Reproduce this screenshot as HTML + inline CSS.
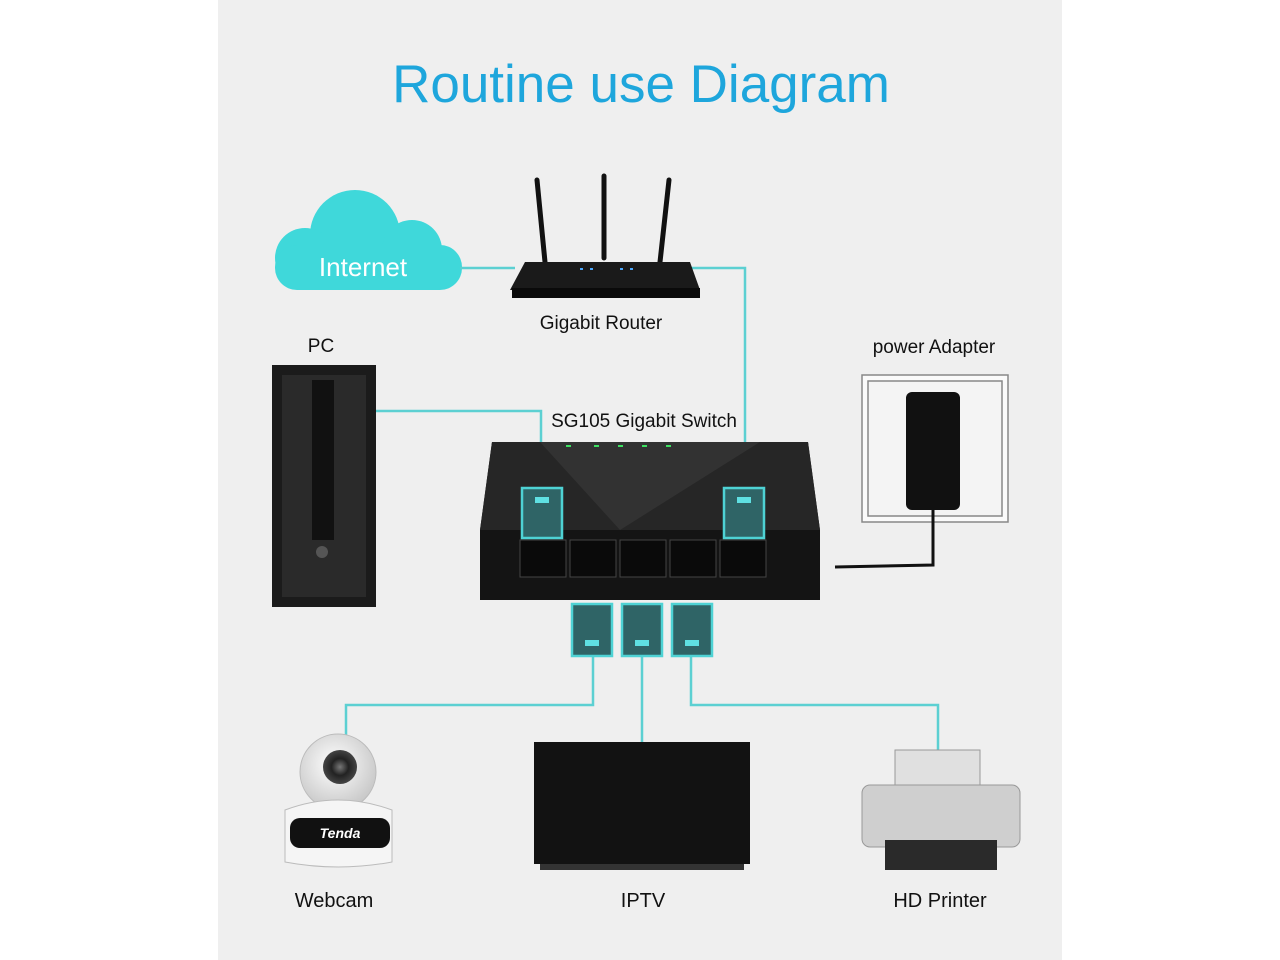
<!DOCTYPE html>
<html><head><meta charset="utf-8"><style>
html,body{margin:0;padding:0}
body{width:1280px;height:960px;position:relative;background:#fff;font-family:"Liberation Sans",sans-serif;overflow:hidden}
.a{position:absolute}
.lbl{position:absolute;font-size:20px;color:#111;transform:translateX(-50%);white-space:nowrap}
</style></head><body>
<div class="a" style="left:218px;top:0;width:844px;height:960px;background:#efefef"></div>
<div class="lbl" style="left:641px;top:54px;font-size:53px;color:#1ea6dc">Routine use Diagram</div>

<svg class="a" style="left:0;top:0" width="1280" height="960">
<defs>
<radialGradient id="wc" cx="0.45" cy="0.4" r="0.6"><stop offset="0" stop-color="#fff"/><stop offset="1" stop-color="#c8c8c8"/></radialGradient>
<radialGradient id="lens" cx="0.5" cy="0.5" r="0.5"><stop offset="0" stop-color="#777"/><stop offset="0.5" stop-color="#222"/><stop offset="1" stop-color="#444"/></radialGradient>
</defs>
<g fill="#3fd8da">
<circle cx="355" cy="235" r="45"/><circle cx="412" cy="250" r="30"/><circle cx="305" cy="258" r="30"/>
<rect x="275" y="245" width="187" height="45" rx="22"/>
</g>
<g stroke="#5cd0d2" stroke-width="2.5" fill="none">
<polyline points="460,268 515,268"/>
<polyline points="690,268 745,268 745,490"/>
<polyline points="376,411 541,411 541,490"/>
<polyline points="593,656 593,705 346,705 346,742"/>
<polyline points="642,656 642,742"/>
<polyline points="691,656 691,705 938,705 938,752"/>
</g>
<g stroke="#111" stroke-width="5" stroke-linecap="round">
<line x1="537" y1="180" x2="545" y2="262"/><line x1="604" y1="176" x2="604" y2="258"/><line x1="669" y1="180" x2="660" y2="262"/>
</g>
<polygon points="525,262 690,262 700,290 510,290" fill="#1a1a1a"/>
<rect x="512" y="288" width="188" height="10" fill="#0a0a0a"/>
<g fill="#4aa8ff"><rect x="580" y="268" width="3" height="2"/><rect x="590" y="268" width="3" height="2"/><rect x="620" y="268" width="3" height="2"/><rect x="630" y="268" width="3" height="2"/></g>
<rect x="272" y="365" width="104" height="242" fill="#1b1b1b"/>
<rect x="282" y="375" width="84" height="222" fill="#2a2a2a"/>
<rect x="312" y="380" width="22" height="160" fill="#111"/>
<circle cx="322" cy="552" r="6" fill="#555"/>
<rect x="862" y="375" width="146" height="147" fill="#fafafa" stroke="#888" stroke-width="1.5"/>
<rect x="868" y="381" width="134" height="135" fill="#f4f4f4" stroke="#888" stroke-width="1.5"/>
<rect x="906" y="392" width="54" height="118" rx="6" fill="#111"/>
<polyline points="933,510 933,565 835,567" stroke="#111" stroke-width="3" fill="none"/>
<polygon points="492,442 808,442 820,530 820,600 480,600 480,530" fill="#141414"/>
<polygon points="492,442 808,442 820,530 480,530" fill="#262626"/>
<polygon points="540,442 760,442 620,530" fill="#3a3a3a" opacity=".6"/>
<g fill="#0a0a0a" stroke="#444">
<rect x="520" y="540" width="46" height="37"/><rect x="570" y="540" width="46" height="37"/><rect x="620" y="540" width="46" height="37"/><rect x="670" y="540" width="46" height="37"/><rect x="720" y="540" width="46" height="37"/>
</g>
<g fill="#3ce060"><rect x="566" y="445" width="5" height="2"/><rect x="594" y="445" width="5" height="2"/><rect x="618" y="445" width="5" height="2"/><rect x="642" y="445" width="5" height="2"/><rect x="666" y="445" width="5" height="2"/></g>
<g fill="#2f6466" stroke="#4ed2d4" stroke-width="2.5">
<rect x="522" y="488" width="40" height="50"/><rect x="724" y="488" width="40" height="50"/>
<rect x="572" y="604" width="40" height="52"/><rect x="622" y="604" width="40" height="52"/><rect x="672" y="604" width="40" height="52"/>
</g>
<g fill="#5fe0e2"><rect x="535" y="497" width="14" height="6"/><rect x="737" y="497" width="14" height="6"/>
<rect x="585" y="640" width="14" height="6"/><rect x="635" y="640" width="14" height="6"/><rect x="685" y="640" width="14" height="6"/></g>
<circle cx="338" cy="772" r="38" fill="url(#wc)" stroke="#bbb"/>
<circle cx="340" cy="767" r="17" fill="url(#lens)"/>
<path d="M285,810 Q338,790 392,810 L392,862 Q338,872 285,862 Z" fill="#f5f5f5" stroke="#bbb"/>
<rect x="290" y="818" width="100" height="30" rx="10" fill="#111"/>
<text x="340" y="838" font-size="14" font-style="italic" font-weight="bold" fill="#fff" text-anchor="middle" font-family="Liberation Sans">Tenda</text>
<rect x="534" y="742" width="216" height="122" fill="#121212"/>
<rect x="540" y="864" width="204" height="6" fill="#333"/>
<rect x="895" y="750" width="85" height="40" fill="#e0e0e0" stroke="#999"/>
<rect x="862" y="785" width="158" height="62" rx="8" fill="#cfcfcf" stroke="#999"/>
<rect x="885" y="840" width="112" height="30" fill="#2a2a2a"/>
</svg>
<div class="lbl" style="left:363px;top:252px;font-size:26px;color:#fff">Internet</div>
<div class="lbl" style="left:601px;top:313px;font-size:19px">Gigabit Router</div>
<div class="lbl" style="left:321px;top:336px;font-size:19px">PC</div>
<div class="lbl" style="left:934px;top:337px;font-size:19px">power Adapter</div>
<div class="lbl" style="left:644px;top:411px;font-size:19px">SG105 Gigabit Switch</div>
<div class="lbl" style="left:334px;top:890px">Webcam</div>
<div class="lbl" style="left:643px;top:890px">IPTV</div>
<div class="lbl" style="left:940px;top:890px">HD Printer</div>
</body></html>
